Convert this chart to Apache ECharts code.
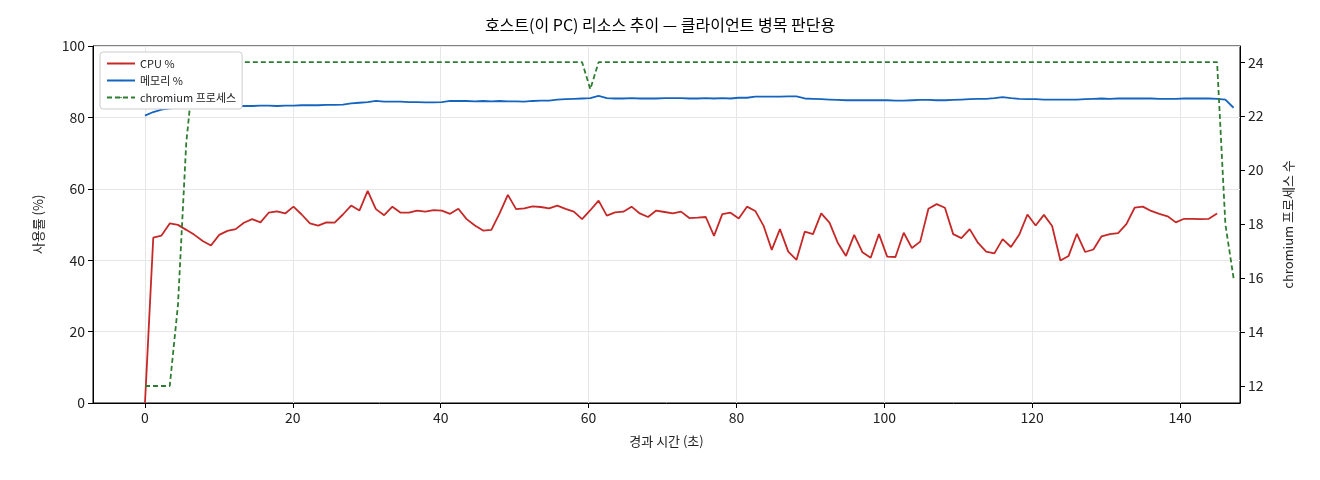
<!DOCTYPE html><html><head><meta charset="utf-8"><script src="https://cdn.jsdelivr.net/npm/echarts@6/dist/echarts.min.js"></script></head><body style="margin:0"><div id="c" style="width:1320px;height:480px"></div><script>
const cpu=[0,46.3,46.9,50.3,49.9,48.5,47.1,45.4,44.1,47.1,48.2,48.7,50.5,51.5,50.6,53.3,53.7,53.1,55.0,52.8,50.3,49.7,50.6,50.5,52.8,55.3,53.9,59.4,54.3,52.6,55.0,53.3,53.3,53.9,53.6,54.0,53.9,53.0,54.4,51.5,49.7,48.3,48.5,53.1,58.3,54.3,54.5,55.1,54.9,54.5,55.3,54.4,53.6,51.5,54.0,56.7,52.5,53.4,53.6,55.0,53.1,52.1,53.9,53.5,53.1,53.6,51.8,51.9,
52.1,46.8,52.9,53.3,51.7,55.0,53.8,49.7,42.9,48.7,42.4,40.1,48.0,47.3,53.1,50.5,44.9,41.2,47.1,42.2,40.7,47.3,41.0,40.9,47.7,43.4,45.2,54.4,55.7,54.7,47.3,46.2,48.7,44.9,42.4,41.9,45.9,43.7,47.1,52.8,49.7,52.7,49.6,39.9,41.2,47.4,42.3,43.0,46.7,47.3,47.6,50.1,54.7,55.0,53.8,53.0,52.3,50.6,51.6,51.6,51.5,51.6,53.1];
const mem=[80.5,81.5,82.2,82.5,82.7,82.8,82.9,83.0,83.0,83.1,83.1,83.2,83.2,83.2,83.3,83.3,83.2,83.3,83.3,83.4,83.4,83.4,83.5,83.5,83.6,83.9,84.1,84.3,84.6,84.4,84.4,84.4,84.3,84.3,84.2,84.2,84.3,84.6,84.6,84.6,84.5,84.6,84.5,84.6,84.5,84.5,84.4,84.6,84.7,84.7,85.0,85.1,85.2,85.3,85.4,86.0,85.4,85.3,85.3,85.4,85.3,85.3,85.3,85.4,85.4,85.4,85.3,85.3,85.4,85.3,85.4,85.3,85.5,85.5,85.8,85.8,85.8,85.8,85.9,85.9,85.3,85.2,85.1,85.0,84.9,84.8,84.8,84.8,84.8,84.8,84.8,84.7,84.7,84.8,84.9,84.9,84.8,84.8,84.9,85.0,85.1,85.2,85.2,85.4,85.7,85.4,85.2,85.1,85.1,85.0,85.0,85.0,85.0,85.0,85.1,85.2,85.3,85.2,85.3,85.3,85.3,85.3,85.3,85.2,85.2,85.2,85.3,85.3,85.3,85.3,85.2,85.0,82.7];
const proc=[12,12,12,12,15,21,24,24,24,24,24,24,24,24,24,24,24,24,24,24,24,24,24,24,24,24,24,24,24,24,24,24,24,24,24,24,24,24,24,24,24,24,24,24,24,24,24,24,24,24,24,24,24,24,23,24,24,24,24,24,24,24,24,24,24,24,24,24,24,24,24,24,24,24,24,24,24,24,24,24,24,24,24,24,24,24,24,24,24,24,24,24,24,24,24,24,24,24,24,24,24,24,24,24,24,24,24,24,24,24,24,24,24,24,24,24,24,24,24,24,24,24,24,24,24,24,24,24,24,24,24,18,16];
const dt=145/(cpu.length-1);
const pair=a=>a.map((v,i)=>[+(i*dt).toFixed(2),v]);
const F='"Noto Sans CJK KR","DejaVu Sans",sans-serif';
const ch=echarts.init(document.getElementById('c'));
const ax={axisLine:{show:true,onZero:false,lineStyle:{color:'#000'}},axisTick:{show:true,inside:false,lineStyle:{color:'#000'}},axisLabel:{color:'#222',fontSize:14,fontFamily:F}};
ch.setOption({animation:false,
title:{text:'호스트(이 PC) 리소스 추이 — 클라이언트 병목 판단용',left:'center',top:12,textStyle:{fontSize:16,fontWeight:'normal',fontFamily:F,color:'#000'}},
grid:{left:93,right:80,top:46,bottom:77,show:true,borderColor:'#000',borderWidth:1},
legend:{left:100,top:52,orient:'vertical',itemWidth:28,itemHeight:2,itemGap:6,backgroundColor:'#fff',borderColor:'#ccc',borderWidth:1,borderRadius:3,padding:[6,6],textStyle:{fontSize:11,fontFamily:F,color:'#222'}},
xAxis:{type:'value',min:-7.03,max:148.1,minInterval:20,maxInterval:20,...ax,axisLabel:{...ax.axisLabel,showMinLabel:false,showMaxLabel:false},splitLine:{lineStyle:{color:'#e6e6e6'}},name:'경과 시간 (초)',nameLocation:'middle',nameGap:32,nameTextStyle:{fontSize:13,fontFamily:F,color:'#222'}},
yAxis:[{type:'value',min:0,max:100,interval:20,...ax,splitLine:{lineStyle:{color:'#e6e6e6'}},name:'사용률 (%)',nameLocation:'middle',nameGap:48,nameTextStyle:{fontSize:13,fontFamily:F,color:'#222'}},
{type:'value',min:11.37,max:24.6,minInterval:2,maxInterval:2,...ax,axisLabel:{...ax.axisLabel,showMinLabel:false,showMaxLabel:false},splitLine:{show:false},name:'chromium 프로세스 수',nameLocation:'middle',nameGap:42,nameTextStyle:{fontSize:13,fontFamily:F,color:'#222'}}],
series:[{name:'CPU %',type:'line',data:pair(cpu),symbol:'none',lineStyle:{color:'#c62828',width:1.8},itemStyle:{color:'#c62828'}},
{name:'메모리 %',type:'line',data:pair(mem),symbol:'none',lineStyle:{color:'#1565c0',width:1.8},itemStyle:{color:'#1565c0'}},
{name:'chromium 프로세스',type:'line',yAxisIndex:1,data:pair(proc),symbol:'none',lineStyle:{color:'#2e7d32',width:1.8,type:[5,3]},itemStyle:{color:'#2e7d32'}}]});
</script></body></html>
